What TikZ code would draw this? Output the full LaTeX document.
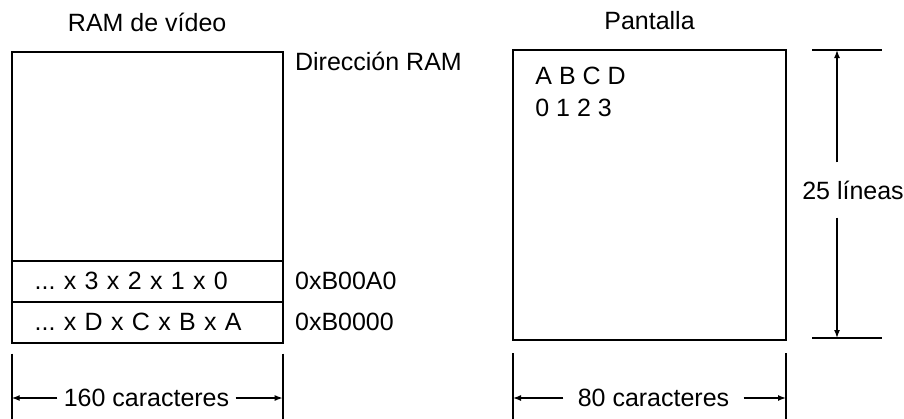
\documentclass[tikz,border=0pt]{standalone}
\usepackage{fontspec}
\setmainfont{Liberation Sans}
\usetikzlibrary{arrows.meta, positioning}
\frenchspacing

\begin{document}
\begin{tikzpicture}[
    x=0.5pt, y=-0.5pt,
    font=\fontsize{12.5}{16}\selectfont,
    box/.style={rectangle, draw, line width=0.9pt, inner sep=0pt, outer sep=0pt},
    rowbox/.style={box, minimum height=20.5pt, text width=112.5pt,
                   inner xsep=11.5pt, align=left},
    lbl/.style={inner sep=0pt},
    arr/.style={-{Latex[length=4pt, width=3pt]}, line width=0.7pt},
    ext/.style={line width=0.9pt},
]
    \useasboundingbox (0,0) rectangle (904,418);

    % RAM de video
    \node[box, anchor=north west, minimum width=135.5pt, minimum height=104.5pt] (ram) at (11.7,51.7) {};
    \node[rowbox, below=0pt of ram] (fila1) {... x 3 x 2 x 1 x 0};
    \node[rowbox, below=0pt of fila1] (fila0) {... x D x C x B x A};

    \node[lbl, above=10pt of ram] (tram) {RAM de vídeo};
    \node[lbl, anchor=north west] (dir) at ([xshift=6pt]ram.north east) {Dirección RAM};
    \node[lbl, right=6pt of fila1] (dir1) {0xB00A0};
    \node[lbl, right=6pt of fila0] (dir0) {0xB0000};

    % Pantalla
    \node[box, anchor=north west, minimum width=136.5pt, minimum height=145pt] (scr) at (513,50) {};
    \node[lbl, above=10pt of scr] (tscr) {Pantalla};
    \node[lbl, anchor=north west, align=left] (chars) at ([shift={(11pt,-8.5pt)}]scr.north west) {A B C D\\0 1 2 3};

    % 25 lineas
    \coordinate (sup1) at (812,50);
    \coordinate (sup2) at (882,50);
    \coordinate (inf1) at (812,338);
    \coordinate (inf2) at (882,338);
    \coordinate (fsup) at (837,50);
    \coordinate (finf) at (837,338);
    \draw[ext] (sup1) -- (sup2);
    \draw[ext] (inf1) -- (inf2);
    \node[lbl, inner ysep=9pt] (lin) at (853,190) {25 líneas};
    \draw[arr] (lin.north -| fsup) -- (fsup);
    \draw[arr] (lin.south -| finf) -- (finf);

    % Anchos
    \draw[ext] ([yshift=-5.5pt]fila0.south west) -- ++(0,-32.5pt);
    \draw[ext] ([yshift=-5.5pt]fila0.south east) -- ++(0,-32.5pt);
    \node[lbl, inner xsep=3pt] (w160) at (146.5,398) {160 caracteres};
    \draw[arr] (w160.west) -- (w160.west -| fila0.west);
    \draw[arr] (w160.east) -- (w160.east -| fila0.east);

    \draw[ext] ([yshift=-6.5pt]scr.south west) -- ++(0,-39pt);
    \draw[ext] ([yshift=-6.5pt]scr.south east) -- ++(0,-39pt);
    \node[lbl, inner xsep=7pt] (w80) at (653.5,398) {80 caracteres};
    \draw[arr] (w80.west) -- (w80.west -| scr.west);
    \draw[arr] (w80.east) -- (w80.east -| scr.east);
\end{tikzpicture}
\end{document}
